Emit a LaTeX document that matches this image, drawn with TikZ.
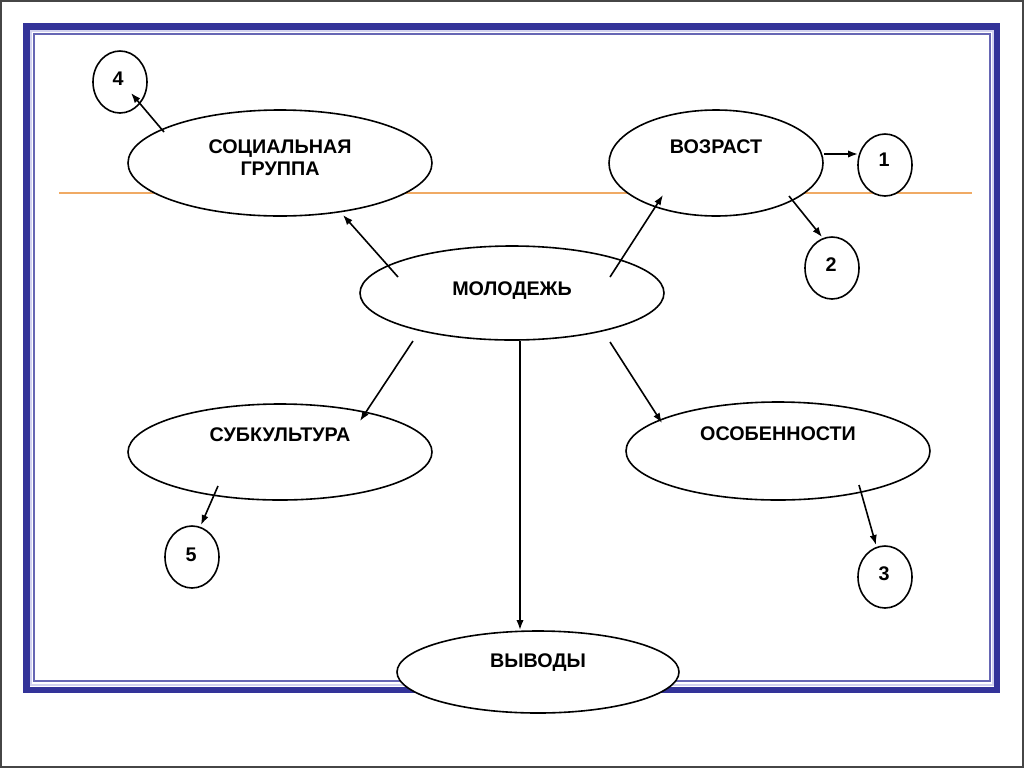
\documentclass[tikz,border=0pt]{standalone}
\usepackage{fontspec}
\setmainfont{Liberation Sans}
\usetikzlibrary{shapes.geometric,arrows.meta}
\definecolor{frameblue}{RGB}{51,51,153}
\definecolor{framelight}{RGB}{210,210,240}
\definecolor{framethin}{RGB}{102,102,180}
\definecolor{orangeline}{RGB}{240,170,100}
\definecolor{bordergray}{RGB}{70,70,70}
\tikzset{
  ell/.style={ellipse, draw=black, fill=white, line width=1.2pt, inner sep=0pt},
  numcirc/.style={ellipse, draw=black, fill=white, line width=1.2pt, inner sep=0pt,
    minimum width=40.5pt, minimum height=46.5pt},
  txt/.style={inner sep=0pt, text height=10.6pt, text depth=0pt,
    font=\fontsize{14.8}{17}\selectfont\bfseries},
  arr/.style={-{Latex[length=7.5pt,width=5.5pt]}, line width=1.2pt, black}
}
\begin{document}
\begin{tikzpicture}[x=0.75pt,y=-0.75pt]
\useasboundingbox (0,0) rectangle (1024,768);
% outer border
\draw[bordergray, line width=1.5pt] (1,1) rectangle (1023,767);
% frame
\draw[framelight, line width=2.2pt] (31,31) rectangle (993,685);
\draw[frameblue, line width=4.8pt] (26.5,26.5) rectangle (997,690);
\draw[framethin, line width=0.9pt] (34,34) rectangle (990,681);
% orange line
\draw[orangeline, line width=1.6pt] (59,193) -- (972,193);

% ellipses
\node[ell, minimum width=228pt, minimum height=79.5pt] (soc) at (280,163) {};
\node[ell, minimum width=160.5pt, minimum height=79.5pt] (voz) at (716,163) {};
\node[ell, minimum width=228pt, minimum height=70.5pt] (mol) at (512,293) {};
\node[ell, minimum width=228pt, minimum height=72pt] (sub) at (280,452) {};
\node[ell, minimum width=228pt, minimum height=73.5pt] (oso) at (778,451) {};
\node[ell, minimum width=211.5pt, minimum height=61.5pt] (vyv) at (538,672) {};

\node[txt] (socA) at (280,146.5) {СОЦИАЛЬНАЯ};
\node[txt] (socB) at (280,168) {ГРУППА};
\node[txt] (vozT) at (716,146) {ВОЗРАСТ};
\node[txt] (molT) at (512,288) {МОЛОДЕЖЬ};
\node[txt] (subT) at (280,434) {СУБКУЛЬТУРА};
\node[txt] (osoT) at (778,433) {ОСОБЕННОСТИ};
\node[txt] (vyvT) at (538,660) {ВЫВОДЫ};

% numbered circles
\node[numcirc] (c4) at (120,82) {};
\node[numcirc] (c1) at (885,165) {};
\node[numcirc] (c2) at (832,268) {};
\node[numcirc] (c3) at (885,577) {};
\node[numcirc] (c5) at (192,557) {};
\node[txt] at (118,78) {4};
\node[txt] at (884,159) {1};
\node[txt] at (831,264) {2};
\node[txt] at (884,573) {3};
\node[txt] at (191,554) {5};

% connector end points
\coordinate (mS) at (398,277);  \coordinate (socIn) at (343,215);
\coordinate (mV) at (610,277);  \coordinate (vozIn) at (663,195);
\coordinate (v1s) at (824,154); \coordinate (c1In) at (858,154);
\coordinate (v2s) at (789,196); \coordinate (c2In) at (822,237);
\coordinate (s4s) at (164,132); \coordinate (c4In) at (131,93);
\coordinate (mSub) at (413,341); \coordinate (subIn) at (360,421);
\coordinate (mOso) at (610,342); \coordinate (osoIn) at (662,423);
\coordinate (mVyv) at (520,341); \coordinate (vyvIn) at (520,630);
\coordinate (sub5) at (218,486); \coordinate (c5In) at (201,525);
\coordinate (oso3) at (859,485); \coordinate (c3In) at (876,545);

\draw[arr] (mS) -- (socIn);
\draw[arr] (mV) -- (vozIn);
\draw[arr] (v1s) -- (c1In);
\draw[arr] (v2s) -- (c2In);
\draw[arr] (s4s) -- (c4In);
\draw[arr] (mSub) -- (subIn);
\draw[arr] (mOso) -- (osoIn);
\draw[arr] (mVyv) -- (vyvIn);
\draw[arr] (sub5) -- (c5In);
\draw[arr] (oso3) -- (c3In);
\end{tikzpicture}
\end{document}
